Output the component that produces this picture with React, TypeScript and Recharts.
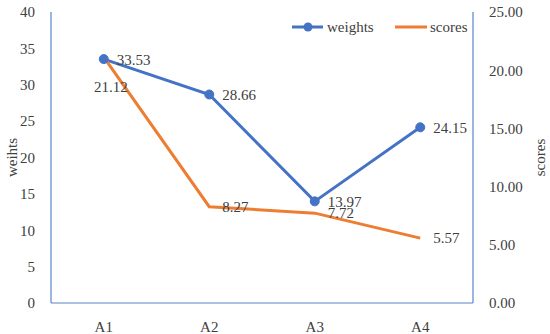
import { ComposedChart, Label, LabelList, Legend, Line, XAxis, YAxis } from 'recharts'

const categories = ['A1', 'A2', 'A3', 'A4']
const weights = [33.53, 28.66, 13.97, 24.15]
const scores = [21.12, 8.27, 7.72, 5.57]
const weightTicks = [0, 5, 10, 15, 20, 25, 30, 35, 40]
const scoreTicks = [0, 5, 10, 15, 20, 25]

const blue = '#4472c4'
const orange = '#ed7d31'
const axisColor = '#5b84cc'
const textColor = '#404040'
const font = '"Liberation Serif", serif'
const fontSize = 15

const data = categories.map((name, i) => ({
  name,
  weights: weights[i],
  scores: scores[i],
}))

function pointOf(props: any) {
  const vb = props.viewBox ?? {}
  return { x: props.x ?? vb.x ?? 0, y: props.y ?? vb.y ?? 0 }
}

function WeightLabel(props: any) {
  const { x, y } = pointOf(props)
  return (
    <text x={x + 13} y={y + 1} dominantBaseline="central" fill={textColor} fontFamily={font} fontSize={fontSize}>
      {Number(props.value).toFixed(2)}
    </text>
  )
}

function ScoreLabel(props: any) {
  const { x, y } = pointOf(props)
  if (props.index === 0) {
    return (
      <text x={x + 7} y={y + 30} textAnchor="middle" dominantBaseline="central" fill={textColor} fontFamily={font} fontSize={fontSize}>
        {Number(props.value).toFixed(2)}
      </text>
    )
  }
  return (
    <text x={x + 13} y={y} dominantBaseline="central" fill={textColor} fontFamily={font} fontSize={fontSize}>
      {Number(props.value).toFixed(2)}
    </text>
  )
}

function AxisTitle({ viewBox, text, x }: any) {
  const cy = viewBox.y + viewBox.height / 2
  return (
    <text
      x={x}
      y={cy}
      transform={`rotate(-90 ${x} ${cy})`}
      textAnchor="middle"
      dominantBaseline="central"
      fill={textColor}
      fontFamily={font}
      fontSize={fontSize}
    >
      {text}
    </text>
  )
}

function LegendBox() {
  return (
    <svg width={190} height={24} style={{ display: 'block' }}>
      <line x1={2} y1={11} x2={33} y2={11} stroke={blue} strokeWidth={3} />
      <circle cx={18} cy={11} r={4.5} fill={blue} />
      <text x={37} y={11} dominantBaseline="central" fill={textColor} fontFamily={font} fontSize={fontSize}>
        weights
      </text>
      <line x1={105} y1={11} x2={137} y2={11} stroke={orange} strokeWidth={3} />
      <text x={140} y={11} dominantBaseline="central" fill={textColor} fontFamily={font} fontSize={fontSize}>
        scores
      </text>
    </svg>
  )
}

export default function App() {
  return (
    <div style={{ position: 'absolute', left: 0, top: 0, background: '#fff' }}>
      <ComposedChart width={550} height={334} data={data} margin={{ top: 12, right: 0, bottom: 0, left: 0 }}>
        <XAxis
          dataKey="name"
          scale="band"
          height={31}
          axisLine={{ stroke: axisColor, strokeWidth: 1.2 }}
          tickLine={false}
          tickMargin={12}
          tick={{ fill: textColor, fontFamily: font, fontSize }}
        />
        <YAxis
          yAxisId="left"
          width={51}
          domain={[0, 40]}
          ticks={weightTicks}
          axisLine={{ stroke: axisColor, strokeWidth: 1.2 }}
          tickLine={false}
          tickMargin={10}
          tick={{ fill: textColor, fontFamily: font, fontSize }}
        >
          <Label content={(p: any) => <AxisTitle {...p} text="weihts" x={12} />} />
        </YAxis>
        <YAxis
          yAxisId="right"
          orientation="right"
          width={77}
          domain={[0, 25]}
          ticks={scoreTicks}
          tickFormatter={(v: number) => v.toFixed(2)}
          axisLine={{ stroke: axisColor, strokeWidth: 1.2 }}
          tickLine={false}
          tickMargin={10}
          tick={{ fill: textColor, fontFamily: font, fontSize }}
        >
          <Label content={(p: any) => <AxisTitle {...p} text="scores" x={540} />} />
        </YAxis>
        <Legend
          layout="vertical"
          verticalAlign="middle"
          align="center"
          content={() => <LegendBox />}
          wrapperStyle={{ top: 16, left: 290, width: 190, height: 24 }}
        />
        <Line
          yAxisId="left"
          type="linear"
          dataKey="weights"
          stroke={blue}
          strokeWidth={3}
          dot={{ r: 4.5, fill: blue, stroke: blue, strokeWidth: 1 }}
          isAnimationActive={false}
        >
          <LabelList dataKey="weights" content={WeightLabel} />
        </Line>
        <Line
          yAxisId="right"
          type="linear"
          dataKey="scores"
          stroke={orange}
          strokeWidth={3}
          dot={false}
          isAnimationActive={false}
        >
          <LabelList dataKey="scores" content={ScoreLabel} />
        </Line>
      </ComposedChart>
    </div>
  )
}
